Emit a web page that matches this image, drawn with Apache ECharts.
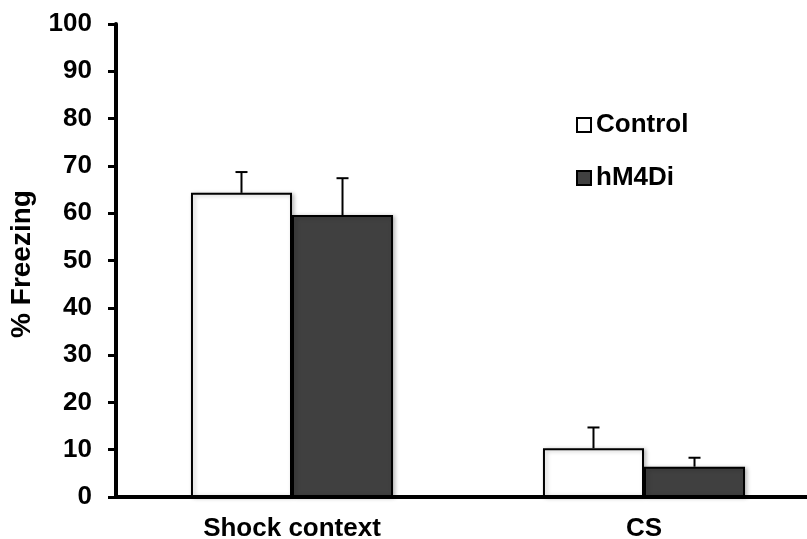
<!DOCTYPE html>
<html>
<head>
<meta charset="utf-8">
<script src="https://cdn.jsdelivr.net/npm/echarts@6/dist/echarts.min.js"></script>
<style>
html,body{margin:0;padding:0;background:#fff;}
#chart{width:807px;height:539px;}
</style>
</head>
<body>
<div id="chart"></div>
<script>
var categories = ['Shock context', 'CS'];
var seriesNames = ['Control', 'hM4Di'];
var controlMean = [64.3, 10.3];
var controlSem = [4.4, 4.4];
var hm4diMean = [59.6, 6.4];
var hm4diSem = [7.8, 1.9];
var yTicks = [0, 10, 20, 30, 40, 50, 60, 70, 80, 90, 100];

var FONT = '"Liberation Sans", Arial, sans-serif';
var GAP_RATIO = 0.426;

function errSeries(name, means, sems, side) {
  return {
    type: 'custom',
    name: name + ' err',
    z: 5,
    data: means.map(function (m, i) { return [i, m, m + sems[i]]; }),
    renderItem: function (params, api) {
      var band = api.size([1, 0])[0];
      var barW = band * (1 - GAP_RATIO) / 2;
      var c = api.value(0);
      var p0 = api.coord([c, api.value(1)]);
      var p1 = api.coord([c, api.value(2)]);
      var x = p0[0] + side * barW / 2;
      var cap = 6;
      return {
        type: 'group',
        children: [
          { type: 'line', shape: { x1: x, y1: p0[1], x2: x, y2: p1[1] }, style: { stroke: '#000', lineWidth: 2 } },
          { type: 'line', shape: { x1: x - cap, y1: p1[1], x2: x + cap, y2: p1[1] }, style: { stroke: '#000', lineWidth: 2 } }
        ]
      };
    }
  };
}

var chart = echarts.init(document.getElementById('chart'), null, { renderer: 'canvas' });
chart.setOption({
  animation: false,
  backgroundColor: '#fff',
  textStyle: { fontFamily: FONT },
  grid: { left: 116, top: 24, width: 704, height: 473, containLabel: false, outerBoundsMode: 'none' },
  legend: {
    data: seriesNames,
    orient: 'vertical',
    left: 576,
    top: 112,
    padding: 0,
    icon: 'rect',
    itemWidth: 14,
    itemHeight: 14,
    itemGap: 27,
    textStyle: { fontFamily: FONT, fontWeight: 'bold', fontSize: 26, color: '#000', padding: [0, 0, 0, 0] }
  },
  xAxis: {
    type: 'category',
    data: categories,
    axisLine: { show: true, lineStyle: { color: '#000', width: 4 } },
    axisTick: { show: false },
    axisLabel: { color: '#000', fontWeight: 'bold', fontSize: 26, fontFamily: FONT, margin: 19 },
    splitLine: { show: false }
  },
  yAxis: {
    type: 'value',
    min: yTicks[0],
    max: yTicks[yTicks.length - 1],
    interval: yTicks[1] - yTicks[0],
    name: '% Freezing',
    nameLocation: 'middle',
    nameGap: 80,
    nameRotate: 90,
    nameTextStyle: { color: '#000', fontWeight: 'bold', fontSize: 28, fontFamily: FONT, padding: [0, 7, 0, 0] },
    axisLine: { show: true, lineStyle: { color: '#000', width: 4 } },
    axisTick: { show: true, inside: false, length: 8, lineStyle: { color: '#000', width: 3 } },
    axisLabel: { color: '#000', fontWeight: 'bold', fontSize: 26, fontFamily: FONT, margin: 24 },
    splitLine: { show: false }
  },
  series: [
    {
      type: 'bar',
      name: seriesNames[0],
      data: controlMean,
      barGap: '0%',
      barCategoryGap: (GAP_RATIO * 100) + '%',
      itemStyle: { color: '#ffffff', borderColor: '#000', borderWidth: 2,
        shadowColor: 'rgba(0,0,0,0.25)', shadowBlur: 4, shadowOffsetX: 2, shadowOffsetY: 1 },
      z: 2
    },
    {
      type: 'bar',
      name: seriesNames[1],
      data: hm4diMean,
      itemStyle: { color: '#404040', borderColor: '#000', borderWidth: 2,
        shadowColor: 'rgba(0,0,0,0.25)', shadowBlur: 4, shadowOffsetX: 2, shadowOffsetY: 1 },
      z: 2
    },
    errSeries(seriesNames[0], controlMean, controlSem, -1),
    errSeries(seriesNames[1], hm4diMean, hm4diSem, 1)
  ]
});
</script>
</body>
</html>
